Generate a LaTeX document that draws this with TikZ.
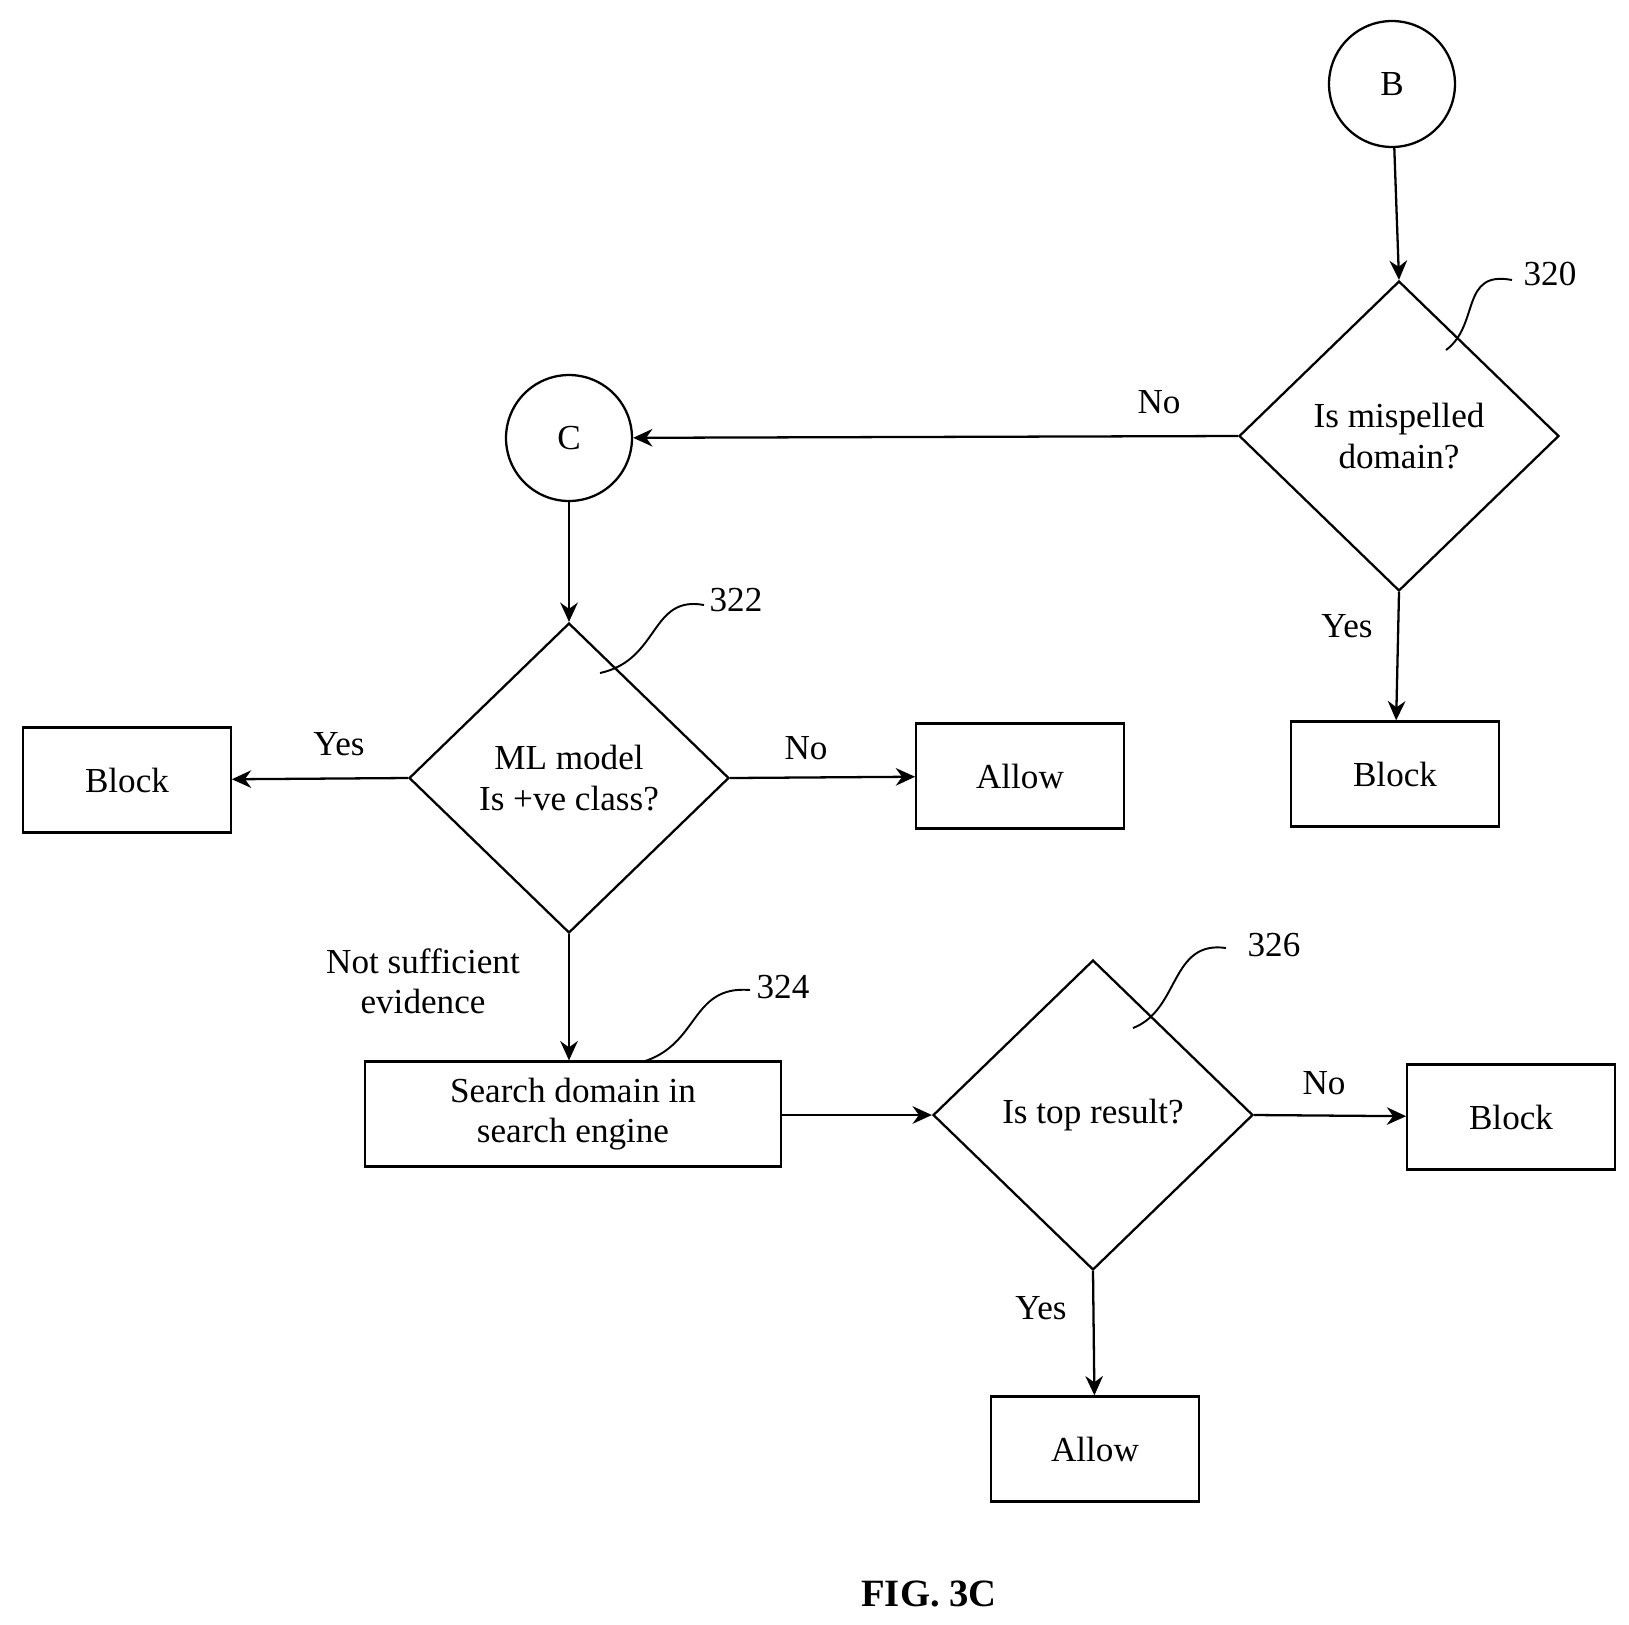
\documentclass[tikz,border=0pt]{standalone}
\usepackage{fontspec}
\setmainfont{Liberation Serif}
\usetikzlibrary{shapes.geometric,arrows.meta}
\begin{document}
\begin{tikzpicture}[x=0.02cm,y=-0.02cm,
  every node/.style={font=\fontsize{20}{23}\selectfont},
  box/.style={draw,line width=1.3pt,minimum width=4.15cm,minimum height=2.1cm,align=center,inner sep=0},
  dia/.style={draw,line width=1.3pt,diamond,minimum width=6.4cm,minimum height=6.2cm,align=center,inner sep=0},
  circ/.style={draw,line width=1.3pt,circle,minimum size=2.52cm,inner sep=0},
  arr/.style={line width=1.3pt,-{Stealth[length=11pt,width=10pt]}},
  lead/.style={line width=1.1pt},
  lbl/.style={align=center}]
\useasboundingbox (0,0) rectangle (1629,1624);
\node[circ] (B) at (1392,84) {B};
\node[dia] (d320) at (1399,436) {Is mispelled\\domain?};
\node[circ] (C) at (569,438) {C};
\node[box] (blk1) at (1395,774) {Block};
\node[dia] (d322) at (569,778) {ML model\\Is +ve class?};
\node[box] (blk2) at (127,780) {Block};
\node[box] (al1) at (1020,776) {Allow};
\node[box,minimum width=8.32cm] (srch) at (573,1114) {Search domain in\\search engine};
\node[dia] (d326) at (1093,1115) {Is top result?};
\node[box] (blk3) at (1511,1117) {Block};
\node[box] (al2) at (1095,1449) {Allow};
\draw[arr] (B) -- (d320.north);
\draw[arr] (d320.west) -- (C);
\draw[arr] (d320.south) -- (blk1);
\draw[arr] (C) -- (d322.north);
\draw[arr] (d322.west) -- (blk2);
\draw[arr] (d322.east) -- (al1);
\draw[arr] (d322.south) -- (srch.north -| d322.south);
\draw[arr] (srch.east |- d326.west) -- (d326.west);
\draw[arr] (d326.east) -- (blk3);
\draw[arr] (d326.south) -- (al2);
\node[lbl] (l1) at (1159,402) {No};
\node[lbl] (l2) at (1347,626) {Yes};
\node[lbl] (l3) at (339,744) {Yes};
\node[lbl] (l4) at (806,748) {No};
\node[lbl] (l5) at (423,981) {Not sufficient\\evidence};
\node[lbl] (l6) at (1324,1083) {No};
\node[lbl] (l7) at (1041,1308) {Yes};
\node (n320) at (1550,274) {320};
\node (n322) at (736,600) {322};
\node (n324) at (783,987) {324};
\node (n326) at (1274,945) {326};
\draw[lead] (1512,280) .. controls (1460,270) and (1480,325) .. (1446,350);
\draw[lead] (704,605) .. controls (650,595) and (660,660) .. (600,673);
\draw[lead] (750,990) .. controls (690,985) and (700,1045) .. (642,1062);
\draw[lead] (1226,948) .. controls (1170,940) and (1180,1010) .. (1133,1028);
\node[font=\fontsize{22}{26}\selectfont\bfseries] (fig) at (929,1594) {FIG. 3C};
\end{tikzpicture}
\end{document}
